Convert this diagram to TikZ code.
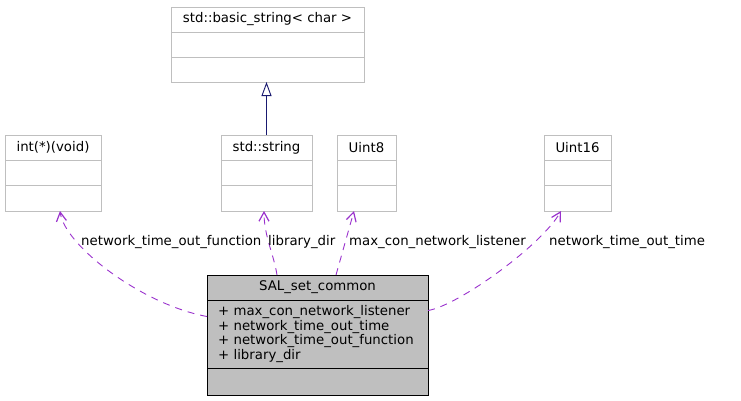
\documentclass[tikz,border=0pt]{standalone}
\usepackage{fontspec}
\setmainfont{DejaVu Sans}
\usetikzlibrary{arrows.meta,positioning,calc}
\definecolor{dxLine}{HTML}{BFBFBF}
\definecolor{dxFill}{HTML}{BFBFBF}
\definecolor{dxUse}{HTML}{9A32CD}
\definecolor{dxBase}{HTML}{191970}
\newcommand{\dxfont}{\fontsize{13.3}{14.7}\selectfont}
\tikzset{
  cls/.style     ={draw=dxLine,line width=0.9pt,fill=white,inner sep=0pt,outer sep=0pt,
                   minimum height=25pt,font=\dxfont},
  focus/.style   ={cls,draw=black,fill=dxFill},
  usage/.style   ={-{Straight Barb[length=9pt,width=10pt,line width=1.2pt]},dxUse,line width=0.9pt,
                   dash pattern=on 7pt off 6pt},
  inherit/.style ={-{Triangle[open,length=14pt,width=10pt,fill=white]},dxBase,
                   line width=0.9pt},
  elbl/.style    ={font=\dxfont,inner sep=0pt,anchor=west},
}

\begin{document}
\begin{tikzpicture}[x=1pt,y=-1pt]
\useasboundingbox (0,0) rectangle (741,400);

% base class
\node[cls,minimum width=193pt,anchor=north west] (bstr) at (171,7) {std::basic\_string< char >};
\node[cls,minimum width=193pt,below=0pt of bstr]  (bstrA) {};
\node[cls,minimum width=193pt,below=0pt of bstrA] (bstrB) {};

% member types
\node[cls,minimum width=96pt,anchor=north west] (fptr) at (5,135) {int(*)(void)};
\node[cls,minimum width=96pt,below=0pt of fptr]  (fptrA) {};
\node[cls,minimum width=96pt,minimum height=26pt,below=0pt of fptrA] (fptrB) {};

\node[cls,minimum width=91pt,anchor=north west] (str) at (221,135) {std::string};
\node[cls,minimum width=91pt,below=0pt of str]  (strA) {};
\node[cls,minimum width=91pt,minimum height=26pt,below=0pt of strA] (strB) {};

\node[cls,minimum width=59pt,anchor=north west] (ueight) at (337,135) {Uint8};
\node[cls,minimum width=59pt,below=0pt of ueight]  (ueightA) {};
\node[cls,minimum width=59pt,minimum height=26pt,below=0pt of ueightA] (ueightB) {};

\node[cls,minimum width=67pt,anchor=north west] (usixteen) at (544,135) {Uint16};
\node[cls,minimum width=67pt,below=0pt of usixteen]  (usixteenA) {};
\node[cls,minimum width=67pt,minimum height=26pt,below=0pt of usixteenA] (usixteenB) {};

% documented struct
\node[focus,minimum width=221pt,anchor=north west] (sal) at (207,275) {SAL\_set\_common};
\node[focus,minimum width=221pt,minimum height=68pt,text width=199pt,inner xsep=11pt,
      align=left,below=0pt of sal] (salA)
  {+ max\_con\_network\_listener\\+ network\_time\_out\_time\\
   + network\_time\_out\_function\\+ library\_dir};
\node[focus,minimum width=221pt,minimum height=27pt,below=0pt of salA] (salB) {};

\draw[inherit] (str.north) -- (str.north |- bstrB.south);

\draw[usage] (salA.171) .. controls +(-65,-12) and +(5,35) .. ($(fptrB.south)+(7,0)$);
\draw[usage] ($(sal.north)+(-40.5,0)$) .. controls +(-3,-20) and +(0,25) .. ($(strB.south)+(-2.5,0)$);
\draw[usage] ($(sal.north)+(18.5,0)$) -- ($(ueightB.south)+(-12.5,0)$);
\draw[usage] (salA.12) .. controls +(30,-5) and +(-20,35) .. ($(usixteenB.south)+(-16.5,0)$);

\node[elbl] (lfunc) at (81,242)  {network\_time\_out\_function};
\node[elbl] (ldir)  at (268,242) {library\_dir};
\node[elbl] (llist) at (349,242) {max\_con\_network\_listener};
\node[elbl] (ltime) at (549,242) {network\_time\_out\_time};
\end{tikzpicture}
\end{document}
